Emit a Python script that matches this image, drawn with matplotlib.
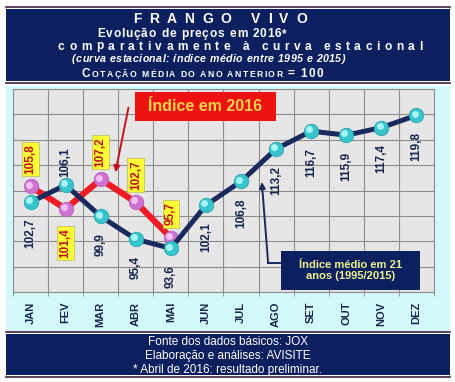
import matplotlib
matplotlib.use('Agg')
import matplotlib.pyplot as plt
import matplotlib.patches as patches
import matplotlib.transforms as mtransforms
from matplotlib.lines import Line2D
from matplotlib.font_manager import FontProperties
from matplotlib.textpath import TextToPath
import numpy as np

# data
months = ['JAN', 'FEV', 'MAR', 'ABR', 'MAI', 'JUN', 'JUL', 'AGO', 'SET', 'OUT', 'NOV', 'DEZ']
media_21 = [102.7, 106.1, 99.9, 95.4, 93.6, 102.1, 106.8, 113.2, 116.7, 115.9, 117.4, 119.8]
indice_2016 = [105.8, 101.4, 107.2, 102.7, 95.7]

W, H = 456, 382
DPI = 100
FONT = 'Liberation Sans'
navy = '#0c1f5e'
cyan_bg = '#d2fafa'
label_navy = '#18244f'

plt.rcParams['font.family'] = [FONT, 'DejaVu Sans']

fig = plt.figure(figsize=(W / DPI, H / DPI), dpi=DPI)
fig.patch.set_facecolor('white')


def fx(px):
    return px / W


def fy(py):
    return 1 - py / H


def box(x0, y0, x1, y1, color):
    fig.add_artist(patches.Rectangle((fx(x0), fy(y1)), (x1 - x0) / W, (y1 - y0) / H,
                                     transform=fig.transFigure, facecolor=color,
                                     edgecolor='none', zorder=0))


def hline(y, x0=6, x1=450):
    fig.add_artist(Line2D([fx(x0), fx(x1)], [fy(y), fy(y)], color='#3a2040', lw=1.2,
                          transform=fig.transFigure))


t2p = TextToPath()


def spaced(parts, xl, xr, y_base, weight='bold', style='normal', color='white'):
    # letter-spaced text spread between xl and xr (pixels)
    chars = [(c, fs) for s, fs in parts for c in s]
    widths = []
    for c, fs in chars:
        if c == ' ':
            widths.append(0.278 * fs * DPI / 72)
        else:
            prop = FontProperties(family=FONT, weight=weight, style=style, size=fs)
            w, h, d = t2p.get_text_width_height_descent(c, prop, ismath=False)
            widths.append(w * DPI / 72)
    gap = (xr - xl - sum(widths)) / (len(chars) - 1)
    x = xl
    for (c, fs), w in zip(chars, widths):
        if c != ' ':
            fig.text(fx(x), fy(y_base), c, fontsize=fs, fontweight=weight, fontstyle=style,
                     color=color, ha='left', va='baseline')
        x += w + gap


# header, panel, footer
hline(7)
box(6, 9, 450, 81, navy)
hline(83)
box(6, 86, 450, 331, cyan_bg)
hline(332)
box(6, 334, 450, 375, navy)
hline(377)

spaced([('FRANGO VIVO', 10)], 133, 307, 23)
spaced([('Evolução de preços em 2016*', 8.6)], 97, 287, 37)
spaced([('comparativamente à curva estacional', 8.6)], 58, 422, 49.5)
spaced([('(curva estacional: índice médio entre 1995 e 2015)', 7.7)], 72, 345, 62.5,
       style='italic')
spaced([('C', 8.5), ('OTAÇÃO MÉDIA DO ANO ANTERIOR ', 6.2), ('= 100', 8.5)], 82, 323, 77)

footer = ['Fonte dos dados básicos: JOX',
          'Elaboração e análises: AVISITE',
          '* Abril de 2016: resultado preliminar.']
for i, line in enumerate(footer):
    fig.text(fx(228), fy(345 + 14 * i), line, color='white', fontsize=8.5,
             ha='center', va='baseline')

# chart
ax = fig.add_axes([fx(13), fy(292), (434 - 13) / W, (292 - 89) / H])
ax.set_facecolor('#e6e6e6')
ax.set_xlim(-0.5, len(months) - 0.5)
ax.set_ylim(85, 125)

x = np.arange(len(months))
x16 = np.arange(len(indice_2016))

ax.set_xticks(x)
ax.set_xticklabels(months, rotation=90, fontsize=8, fontweight='bold', color=label_navy)
ax.set_xticks(np.arange(-0.5, len(months), 1), minor=True)
ax.set_yticks(np.arange(85, 126, 5))
ax.set_yticklabels([])
ax.tick_params(axis='x', which='major', length=0, pad=7)
ax.tick_params(axis='x', which='minor', length=3, color='#888888')
ax.tick_params(axis='y', length=0)
ax.grid(True, which='minor', axis='x', color='#8c8c8c', lw=0.8)
ax.grid(True, which='major', axis='y', color='#8c8c8c', lw=0.8)
ax.set_axisbelow(True)
for s in ax.spines.values():
    s.set_color('#8c8c8c')
    s.set_linewidth(0.8)

hl = mtransforms.offset_copy(ax.transData, fig=fig, x=-1.3, y=1.3, units='points')

ax.plot(x16, indice_2016, color='#ee1c24', lw=4.5, zorder=3, solid_capstyle='round')
ax.plot(x16, indice_2016, 'o', color='#cf72d2', ms=10.5, mec='#b060b8', mew=0.5, zorder=3.5)
ax.plot(x16, indice_2016, 'o', color='#f2c0f2', ms=5, mew=0, zorder=3.6, transform=hl)

ax.plot(x, media_21, color='#1b2a5e', lw=3.6, zorder=4, solid_capstyle='round')
ax.plot(x, media_21, 'o', color='#37c4cc', ms=10.5, mec='#2aa0a8', mew=0.5, zorder=5)
ax.plot(x, media_21, 'o', color='#a8f4f4', ms=5, mew=0, zorder=5.1, transform=hl)

# value labels: put each label on the side away from the other curve
for i, v in enumerate(media_21):
    above = i < len(indice_2016) and v > indice_2016[i]
    ax.annotate(f'{v:.1f}'.replace('.', ','), (i, v), xytext=(0, 6 if above else -12),
                textcoords='offset points', rotation=90, ha='center',
                va='bottom' if above else 'top', fontsize=8.5, fontweight='bold',
                color=label_navy, clip_on=True, zorder=6)

for i, v in enumerate(indice_2016):
    above = v > media_21[i]
    ax.annotate(f'{v:.1f}'.replace('.', ','), (i, v), xytext=(0, 9 if above else -14),
                textcoords='offset points', rotation=90, ha='center',
                va='bottom' if above else 'top', fontsize=8.5, fontweight='bold',
                color='#c0121e', zorder=6,
                bbox=dict(boxstyle='square,pad=0.2', fc='#ffff33', ec='#b8b860', lw=0.5))

# "Índice em 2016" tag with arrow
ax.add_patch(patches.Rectangle((0.29, 0.842), 0.335, 0.143, transform=ax.transAxes,
                               facecolor='#ee1111', edgecolor='none', zorder=7))
ax.text(0.457, 0.912, 'Índice em 2016', transform=ax.transAxes, ha='center', va='center',
        fontsize=11.5, fontweight='bold', color='#ffd24a', zorder=8)
ax.annotate('', xy=(0.242, 0.576), xytext=(0.2755, 0.921), xycoords='axes fraction',
            arrowprops=dict(arrowstyle='-|>', color='#c8101c', lw=1.4,
                            mutation_scale=9), zorder=7)

# "Índice médio em 21 anos" tag with arrow
ax.add_patch(patches.Rectangle((0.637, 0.01), 0.33, 0.192, transform=ax.transAxes,
                               facecolor=navy, edgecolor='none', zorder=7))
ax.text(0.802, 0.106, 'Índice médio em 21\nanos (1995/2015)', transform=ax.transAxes,
        ha='center', va='center', fontsize=8, fontweight='bold', color='#eef28e',
        linespacing=1.05, zorder=8)
ax.plot([0.637, 0.606], [0.143, 0.143], color='#1b2a5e', lw=1.4, transform=ax.transAxes,
        zorder=7)
ax.annotate('', xy=(0.591, 0.542), xytext=(0.606, 0.143), xycoords='axes fraction',
            arrowprops=dict(arrowstyle='-|>', color='#1b2a5e', lw=1.4,
                            mutation_scale=9, shrinkA=0, shrinkB=0), zorder=7)

fig.savefig('out.png', dpi=DPI)
